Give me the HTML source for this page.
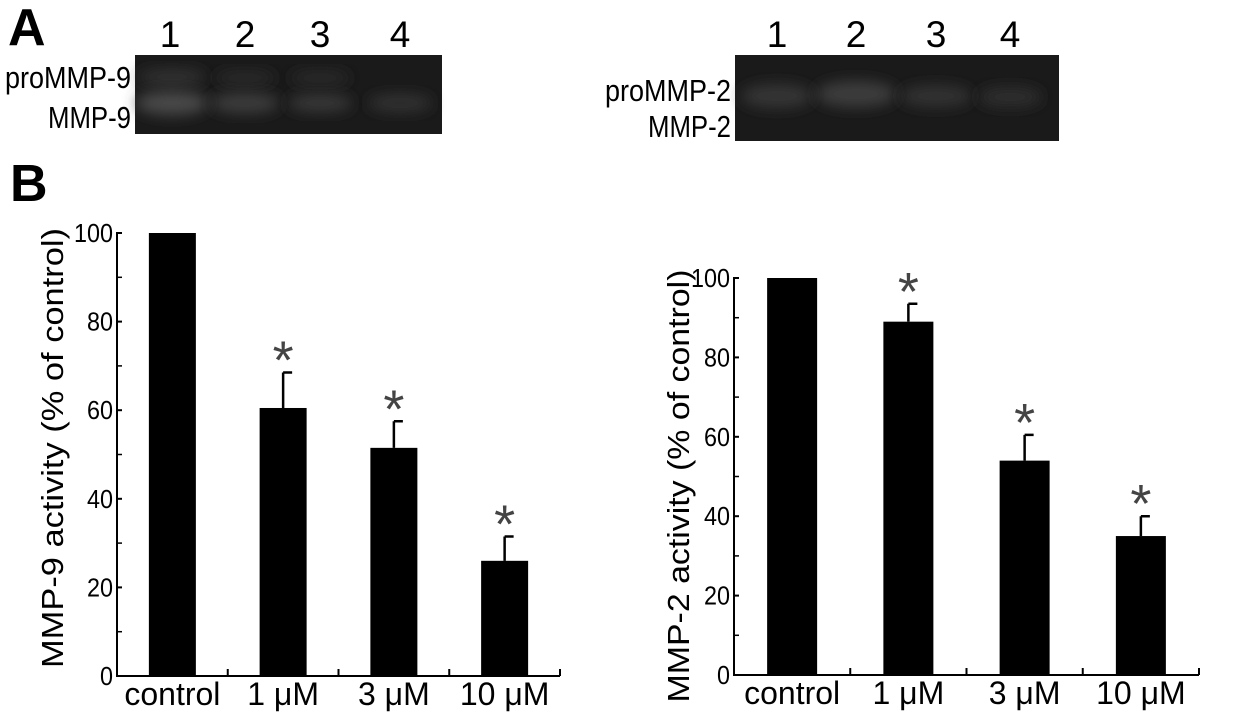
<!DOCTYPE html>
<html><head><meta charset="utf-8"><style>
html,body{margin:0;padding:0;background:#fff;}
svg{display:block;font-family:"Liberation Sans",Arial,sans-serif;}
</style></head><body>
<svg id="fig" width="1254" height="719" viewBox="0 0 1254 719">
<defs>
<filter id="blur" x="-50%" y="-50%" width="200%" height="200%"><feGaussianBlur stdDeviation="7"/></filter>
</defs>
<text x="8" y="45" font-size="52" font-weight="bold">A</text>
<text x="10" y="201" font-size="52" font-weight="bold">B</text>
<g id="gels"></g>
<g id="chartL"></g>
<g id="chartR"></g>
</svg>
<script>
// ---- data ----
const categories = ["control", "1 \u03bcM", "3 \u03bcM", "10 \u03bcM"];
const mmp9Values = [100, 60.5, 51.5, 26];
const mmp9Errors = [0, 8, 6, 5.5];
const mmp9Sig = [false, true, true, true];
const mmp2Values = [100, 89, 54, 35];
const mmp2Errors = [0, 4.5, 6.5, 5];
const mmp2Sig = [false, true, true, true];
const yTicks = [0, 20, 40, 60, 80, 100];
const yMinorTicks = [10, 30, 50, 70, 90];
const laneLabels = ["1", "2", "3", "4"];

const NS = "http://www.w3.org/2000/svg";
function mk(parent, tag, attrs, text) {
  const e = document.createElementNS(NS, tag);
  for (const k in attrs) e.setAttribute(k, attrs[k]);
  if (text !== undefined) e.textContent = text;
  parent.appendChild(e);
  return e;
}

// ---- gels ----
const gels = document.getElementById('gels');
function gel(x, y, w, h, laneX, bands, labels, labelYs, labelLens) {
  const r = mk(gels, 'rect', {x: x, y: y, width: w, height: h, fill: '#1a1a1a'});
  
  
  laneLabels.forEach((l, i) => {
    const t = mk(gels, 'text', {x: laneX[i], y: 47, 'font-size': 37, 'text-anchor': 'middle'}, l);
    
    
  });
  const clip = mk(gels, 'g', {});
  bands.forEach(b => {
    const e = mk(clip, 'ellipse', {cx: b[0], cy: b[1], rx: b[2], ry: b[3], fill: b[4], filter: 'url(#blur)'});
    
    
  });
  labels.forEach((l, i) => {
    const t = mk(gels, 'text', {x: x - 4, y: labelYs[i], 'font-size': 31, 'text-anchor': 'end', textLength: labelLens[i], lengthAdjust: 'spacingAndGlyphs'}, l);
    
    
  });
}
gel(135, 55, 307, 79, [170, 245, 320, 400],
  [[172, 77, 34, 8, '#333'], [172, 103, 36, 12, '#4a4a4a'], [245, 78, 30, 7, '#2c2c2c'], [245, 103, 34, 10, '#3c3c3c'],
   [320, 78, 30, 7, '#2a2a2a'], [320, 103, 32, 9, '#383838'], [400, 103, 32, 9, '#333']],
  ['proMMP-9', 'MMP-9'], [88, 128], [126, 83]);
gel(735, 55, 324, 86, [777, 856, 936, 1010],
  [[777, 96, 36, 12, '#363636'], [856, 94, 40, 13, '#3c3c3c'], [936, 96, 36, 11, '#333'], [1010, 97, 32, 10, '#2e2e2e']],
  ['proMMP-2', 'MMP-2'], [101, 137], [126, 83]);

// ---- charts ----
function chart(gid, ax, y0px, y100px, xEnd, barW, values, errs, sig, title, titleX, titleY, titleLen) {
  const g = document.getElementById(gid);
  const ys = v => y0px - (v / 100) * (y0px - y100px);
  const band = (xEnd - ax) / categories.length;
  const xc = i => ax + band * (i + 0.5);
  const yl = mk(g, 'line', {x1: ax, y1: y100px - 1, x2: ax, y2: y0px, stroke: '#000', 'stroke-width': 2});
  
  
  const xl = mk(g, 'line', {x1: ax - 1, y1: y0px, x2: xEnd, y2: y0px, stroke: '#000', 'stroke-width': 2});
  
  
  yTicks.forEach(v => {
    mk(g, 'line', {x1: ax, y1: ys(v), x2: ax + 5, y2: ys(v), stroke: '#000', 'stroke-width': 2});
    const t = mk(g, 'text', {x: ax - 4, y: ys(v) + 9, 'font-size': 26, 'text-anchor': 'end', textLength: String(v).length * 13, lengthAdjust: 'spacingAndGlyphs'}, String(v));
    
    
  });
  yMinorTicks.forEach(v => mk(g, 'line', {x1: ax, y1: ys(v), x2: ax + 5, y2: ys(v), stroke: '#000', 'stroke-width': 1.5}));
  for (let i = 1; i <= categories.length; i++) {
    const x = ax + band * i;
    mk(g, 'line', {x1: x, y1: y0px, x2: x, y2: y0px - 7, stroke: '#000', 'stroke-width': 2});
  }
  categories.forEach((c, i) => {
    const t = mk(g, 'text', {x: xc(i), y: y0px + 29, 'font-size': 32, 'text-anchor': 'middle'}, c);
    
    
    const b = mk(g, 'rect', {x: xc(i) - barW / 2, y: ys(values[i]), width: barW, height: y0px - ys(values[i]), fill: '#000'});
    
    
    if (errs[i] > 0) {
      const top = ys(values[i] + errs[i]);
      const e = mk(g, 'path', {d: `M${xc(i)},${ys(values[i])}V${top}M${xc(i)},${top}H${xc(i) + 9}`, stroke: '#000', 'stroke-width': 2.5, fill: 'none'});
      
      
    }
    if (sig[i]) {
      const top = ys(values[i] + errs[i]);
      const s = mk(g, 'text', {x: xc(i), y: top + 6, 'font-size': 54, 'text-anchor': 'middle', fill: '#444'}, '*');
      
      
    }
  });
  const tt = mk(g, 'text', {x: 0, y: 0, 'font-size': 31, 'text-anchor': 'middle', textLength: titleLen, lengthAdjust: 'spacingAndGlyphs',
    transform: `translate(${titleX},${titleY}) rotate(-90)`}, title);
  
  
}
chart('chartL', 117, 676, 233, 560, 47, mmp9Values, mmp9Errors, mmp9Sig, 'MMP-9 activity (% of control)', 63, 448, 440);
chart('chartR', 734, 675, 278, 1199, 50, mmp2Values, mmp2Errors, mmp2Sig, 'MMP-2 activity (% of control)', 689, 486, 433);
</script>
</body></html>
